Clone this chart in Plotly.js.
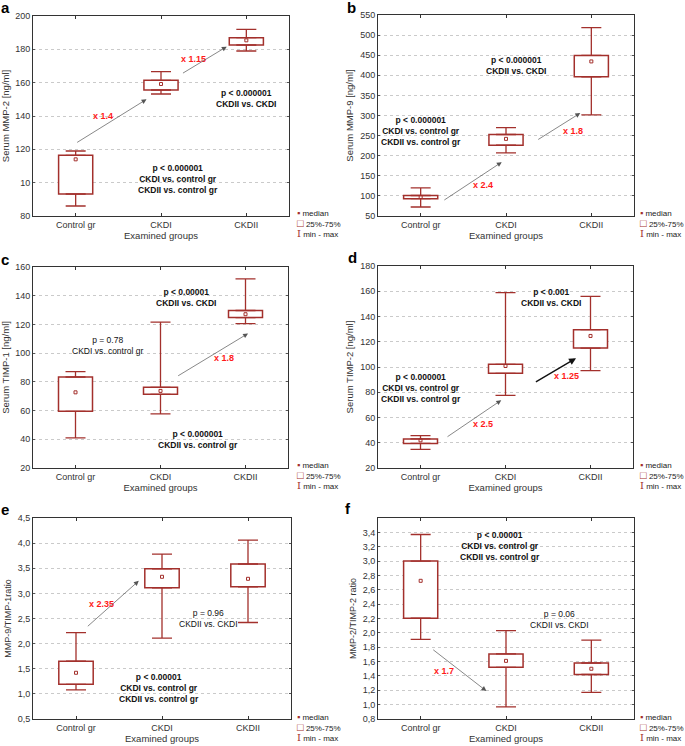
<!DOCTYPE html>
<html>
<head>
<meta charset="utf-8">
<script src="https://cdn.plot.ly/plotly-3.0.1.min.js"></script>
<style>html,body{margin:0;padding:0;background:#fff;}#chart{width:685px;height:746px;}</style>
</head>
<body>
<div id="chart"></div>
<script>
// ---------- DATA ----------
const groups = ['Control gr', 'CKDI', 'CKDII'];

// a: Serum MMP-2
const aMin = [86, 153.2, 179];
const aQ1  = [93.2, 155.6, 182.6];
const aMed = [114, 159.2, 185.4];
const aQ3  = [116.4, 161.4, 187];
const aMax = [119, 166.6, 192];
// b: Serum MMP-9
const bMin = [72.4, 207, 301.7];
const bQ1  = [93.2, 226, 396.3];
const bMed = [97.3, 241.9, 434.5];
const bQ3  = [101, 252.7, 449.5];
const bMax = [120, 270, 518.4];
// c: Serum TIMP-1
const cMin = [41, 57.7, 120.6];
const cQ1  = [59.5, 71.3, 124.8];
const cMed = [72.7, 73.7, 127.1];
const cQ3  = [83.4, 76.2, 129.7];
const cMax = [87.1, 121.6, 151.7];
// d: Serum TIMP-2
const dMin = [34.8, 77.6, 97.1];
const dQ1  = [39.5, 95, 115];
const dMed = [41.9, 100.8, 124.6];
const dQ3  = [43, 102.1, 129.6];
const dMax = [45.6, 158.9, 156];
// e: MMP-9/TIMP-1 ratio
const eMin = [1.08, 2.11, 2.42];
const eQ1  = [1.19, 3.11, 3.13];
const eMed = [1.42, 3.33, 3.29];
const eQ3  = [1.65, 3.49, 3.585];
const eMax = [2.22, 3.78, 4.06];
// f: MMP-2/TIMP-2 ratio
const fMin = [1.91, 0.97, 1.17];
const fQ1  = [2.205, 1.52, 1.42];
const fMed = [2.725, 1.61, 1.50];
const fQ3  = [3.0, 1.707, 1.58];
const fMax = [3.37, 2.03, 1.90];

// tick values / labels
const aTickVals = [80, 100, 120, 140, 160, 180, 200];
const aTickText = ['80', '10', '120', '140', '160', '180', '200'];
const bTickVals = [50, 100, 150, 200, 250, 300, 350, 400, 450, 500, 550];
const bTickText = ['50', '100', '150', '200', '250', '300', '350', '400', '450', '500', '550'];
const cTickVals = [20, 40, 60, 80, 100, 120, 140, 160];
const cTickText = ['20', '40', '60', '80', '100', '120', '140', '160'];
const dTickVals = [20, 40, 60, 80, 100, 120, 140, 160, 180];
const dTickText = ['20', '40', '60', '80', '100', '120', '140', '160', '180'];
const eTickVals = [0.5, 1.0, 1.5, 2.0, 2.5, 3.0, 3.5, 4.0, 4.5];
const eTickText = ['0,5', '1,0', '1,5', '2,0', '2,5', '3,0', '3,5', '4,0', '4,5'];
const fTickVals = [0.8, 1.0, 1.2, 1.4, 1.6, 1.8, 2.0, 2.2, 2.4, 2.6, 2.8, 3.0, 3.2, 3.4];
const fTickText = ['0,8', '1,0', '1,2', '1,4', '1,6', '1,8', '2,0', '2,2', '2,4', '2,6', '2,8', '3,0', '3,2', '3,4'];

const yTitles = ['Serum MMP-2 [ng/ml]', 'Serum MMP-9 [ng/ml]', 'Serum TIMP-1 [ng/ml]',
                 'Serum TIMP-2 [ng/ml]', 'MMP-9/TIMP-1ratio', 'MMP-2/TIMP-2 ratio'];
const panelLetters = ['a', 'b', 'c', 'd', 'e', 'f'];
const legendLabels = ['median', '25%-75%', 'min - max'];

// annotations per panel: p-value texts [x, y, text, bold]
const pTexts = [
  [[2.0, 150.5, 'p < 0.000001<br>CKDII vs. CKDI', true], [1.2, 102, 'p < 0.000001<br>CKDI vs. control gr<br>CKDII vs. control gr', true]],
  [[1.12, 425, 'p < 0.000001<br>CKDII vs. CKDI', true], [0.0, 262, 'p < 0.000001<br>CKDI vs. control gr<br>CKDII vs. control gr', true]],
  [[1.3, 139, 'p < 0.00001<br>CKDII vs. CKDI', true], [0.38, 105, 'p = 0.78<br>CKDI vs. control gr', false], [1.44, 39.6, 'p < 0.000001<br>CKDII vs. control gr', true]],
  [[1.54, 154.7, 'p < 0.001<br>CKDII vs. CKDI', true], [0.01, 83.1, 'p < 0.000001<br>CKDI vs. control gr<br>CKDII vs. control gr', true]],
  [[1.54, 2.5, 'p = 0.96<br>CKDII vs. CKDI', false], [0.965, 1.12, 'p < 0.00001<br>CKDI vs. control gr<br>CKDII vs. control gr', true]],
  [[0.93, 3.21, 'p < 0.00001<br>CKDI vs. control gr<br>CKDII vs. control gr', true], [1.63, 2.19, 'p = 0.06<br>CKDII vs. CKDI', false]]
];
// fold-change labels [x, y, text]
const foldTexts = [
  [[0.32, 140, 'x 1.4'], [1.38, 174, 'x 1.15']],
  [[0.73, 127, 'x 2.4'], [1.78, 261, 'x 1.8']],
  [[1.75, 96.3, 'x 1.8']],
  [[0.73, 54.6, 'x 2.5'], [1.72, 92.9, 'x 1.25']],
  [[0.30, 2.78, 'x 2.35']],
  [[0.27, 1.47, 'x 1.7']]
];
// arrows [tailX, tailY, headX, headY, dark]
const arrows = [
  [[0.0, 123.6, 0.83, 150, false], [1.24, 165.2, 1.77, 181.6, false]],
  [[0.26, 87.4, 0.95, 184, false], [1.36, 238, 1.87, 306, false]],
  [[1.19, 83.6, 2.03, 113.7, false]],
  [[0.30, 44, 0.95, 73.7, false], [1.34, 87.6, 1.83, 106.9, true]],
  [[0.12, 2.32, 0.73, 3.25, false]],
  [[0.13, 1.78, 0.77, 1.19, false]]
];

// ---------- LAYOUT / DRAW ----------
const W = 685, H = 746;
const RED = '#a3302c';
const FONT = 'Liberation Sans, Arial, sans-serif';

const stats = [
  [aMin, aQ1, aMed, aQ3, aMax], [bMin, bQ1, bMed, bQ3, bMax], [cMin, cQ1, cMed, cQ3, cMax],
  [dMin, dQ1, dMed, dQ3, dMax], [eMin, eQ1, eMed, eQ3, eMax], [fMin, fQ1, fMed, fQ3, fMax]
];
const ticks = [[aTickVals, aTickText], [bTickVals, bTickText], [cTickVals, cTickText],
               [dTickVals, dTickText], [eTickVals, eTickText], [fTickVals, fTickText]];
const yRanges = [[80, 200], [50, 550], [20, 160], [20, 180], [0.5, 4.5], [0.8, 3.6]];
// plot rectangles in px [x0, x1, y0(top), y1(bottom)]
const rects = [[33, 289, 16, 216], [378, 634, 15, 216], [33, 288, 267, 468],
               [378, 633, 266, 468], [33, 291, 518, 719], [378, 634, 518, 719]];
const letterPos = [[5, 7], [351, 7], [5, 259], [352, 257], [5, 509], [348, 508]];
const legendPos = [[295, 213], [638, 213], [295, 465], [638, 465], [295, 717], [638, 717]];

const traces = [];
const layout = {
  width: W, height: H, margin: {l: 0, r: 0, t: 0, b: 0},
  paper_bgcolor: '#fff', plot_bgcolor: '#fff',
  showlegend: false, font: {family: FONT, color: '#222'},
  annotations: []
};

for (let i = 0; i < 6; i++) {
  const k = i === 0 ? '' : String(i + 1);
  const xa = 'x' + k, ya = 'y' + k;
  const [mn, q1, md, q3, mx] = stats[i];
  const r = rects[i];

  traces.push({
    type: 'bar', x: groups, y: q3.map((v, j) => v - q1[j]), base: q1, width: 0.4,
    marker: {color: '#fff', line: {color: RED, width: 1.5}},
    xaxis: xa, yaxis: ya, hoverinfo: 'skip'
  });
  traces.push({
    type: 'scatter', mode: 'markers', x: groups, y: q3,
    marker: {size: 1, color: 'rgba(0,0,0,0)'},
    error_y: {type: 'data', symmetric: false, array: mx.map((v, j) => v - q3[j]),
              arrayminus: q3.map(() => 0), color: RED, thickness: 1.3, width: 10},
    xaxis: xa, yaxis: ya, hoverinfo: 'skip', cliponaxis: false
  });
  traces.push({
    type: 'scatter', mode: 'markers', x: groups, y: q1,
    marker: {size: 1, color: 'rgba(0,0,0,0)'},
    error_y: {type: 'data', symmetric: false, array: q1.map(() => 0),
              arrayminus: q1.map((v, j) => v - mn[j]), color: RED, thickness: 1.3, width: 10},
    xaxis: xa, yaxis: ya, hoverinfo: 'skip', cliponaxis: false
  });
  traces.push({
    type: 'scatter', mode: 'markers', x: groups, y: md,
    marker: {symbol: 'square-open', size: 3, color: RED, line: {width: 1, color: RED}},
    xaxis: xa, yaxis: ya, hoverinfo: 'skip'
  });

  layout['xaxis' + k] = {
    domain: [r[0] / W, r[1] / W], anchor: ya, type: 'category', range: [-0.5, 2.5],
    showline: true, mirror: 'allticks', linecolor: '#333', linewidth: 1,
    ticks: 'inside', ticklen: 3, tickcolor: '#333', showgrid: false, zeroline: false,
    tickfont: {size: 9, color: '#333'}, fixedrange: true,
    title: {text: 'Examined groups', font: {size: 9.5, color: '#333'}, standoff: 3}
  };
  layout['yaxis' + k] = {
    domain: [1 - r[3] / H, 1 - r[2] / H], anchor: xa, range: yRanges[i],
    tickvals: ticks[i][0], ticktext: ticks[i][1],
    showline: true, mirror: 'allticks', linecolor: '#333', linewidth: 1,
    ticks: 'inside', ticklen: 2, tickcolor: '#555',
    showgrid: true, gridcolor: '#cacaca', griddash: 'dot', gridwidth: 1, zeroline: false,
    tickfont: {size: 9, color: '#333'}, fixedrange: true,
    title: {text: yTitles[i], font: {size: i >= 4 ? 9 : 9.5, color: '#333'}, standoff: 4}
  };

  // p-value texts
  pTexts[i].forEach(p => layout.annotations.push({
    xref: xa, yref: ya, x: p[0], y: p[1], text: p[2], showarrow: false,
    font: {size: 8.5, color: '#111', weight: p[3] ? 'bold' : 'normal'}, align: 'center'
  }));
  // fold-change labels
  foldTexts[i].forEach(f => layout.annotations.push({
    xref: xa, yref: ya, x: f[0], y: f[1], text: '<b>' + f[2] + '</b>', showarrow: false,
    font: {size: 9, color: '#ff1a1a'}
  }));
  // arrows
  arrows[i].forEach(a => layout.annotations.push({
    xref: xa, yref: ya, axref: xa, ayref: ya, x: a[2], y: a[3], ax: a[0], ay: a[1],
    text: '', showarrow: true, arrowhead: 2, arrowsize: a[4] ? 1 : 1.4,
    arrowwidth: a[4] ? 1.4 : 0.7, arrowcolor: a[4] ? '#111' : '#555', standoff: 0, startstandoff: 0
  }));
  // panel letter
  layout.annotations.push({
    xref: 'paper', yref: 'paper', x: letterPos[i][0] / W, y: 1 - letterPos[i][1] / H,
    text: '<b>' + panelLetters[i] + '</b>', showarrow: false, xanchor: 'center', yanchor: 'middle',
    font: {size: 15, color: '#000'}
  });
  // custom legend
  const syms = ["<span style='color:" + RED + ";font-size:9px'>▪</span>",
                "<span style='color:" + RED + ";font-size:11px'>□</span>",
                "<span style='color:" + RED + ";font-family:DejaVu Serif;font-size:10px'>I</span>"];
  legendLabels.forEach((lab, j) => layout.annotations.push({
    xref: 'paper', yref: 'paper', x: legendPos[i][0] / W, y: 1 - (legendPos[i][1] + j * 10) / H,
    text: syms[j] + ' ' + lab, showarrow: false, xanchor: 'left', yanchor: 'middle',
    font: {size: 8, color: '#222'}
  }));
}

Plotly.newPlot('chart', traces, layout, {staticPlot: true, displayModeBar: false});
</script>
</body>
</html>
